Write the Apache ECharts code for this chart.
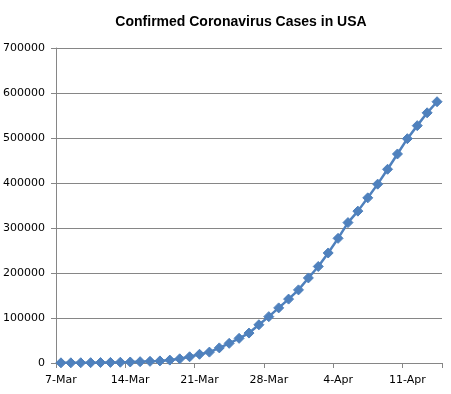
<!DOCTYPE html>
<html>
<head>
<meta charset="utf-8">
<script src="https://cdn.jsdelivr.net/npm/echarts@6/dist/echarts.min.js"></script>
<style>html,body{margin:0;padding:0;background:#fff}#c{width:451px;height:394px}</style>
</head>
<body>
<div id="c"></div>
<script>
var titleText = 'Confirmed Coronavirus Cases in USA';
var categories = ['7-Mar','8-Mar','9-Mar','10-Mar','11-Mar','12-Mar','13-Mar','14-Mar','15-Mar','16-Mar','17-Mar','18-Mar','19-Mar','20-Mar','21-Mar','22-Mar','23-Mar','24-Mar','25-Mar','26-Mar','27-Mar','28-Mar','29-Mar','30-Mar','31-Mar','1-Apr','2-Apr','3-Apr','4-Apr','5-Apr','6-Apr','7-Apr','8-Apr','9-Apr','10-Apr','11-Apr','12-Apr','13-Apr','14-Apr'];
var cases = [400, 450, 550, 700, 1000, 1300, 1700, 2250, 2950, 3700, 4650, 6400, 9300, 13800, 19400, 24200, 33600, 43700, 54800, 66500, 85000, 103000, 122500, 142000, 162500, 189000, 214500, 244500, 277000, 312000, 337500, 367000, 397500, 430500, 464500, 498500, 527500, 556000, 580600];
var yTicks = [0, 100000, 200000, 300000, 400000, 500000, 600000, 700000];

var chart = echarts.init(document.getElementById('c'), null, {renderer: 'canvas'});
chart.setOption({
  animation: false,
  backgroundColor: '#ffffff',
  title: {
    text: titleText,
    left: 236, top: 10, textAlign: 'center',
    textStyle: {fontFamily: 'Liberation Sans', fontWeight: 'bold', fontSize: 14, color: '#000'}
  },
  grid: {left: 54, right: 9, top: 48, bottom: 31, containLabel: false},
  xAxis: {
    type: 'category',
    data: categories,
    boundaryGap: true,
    axisLine: {lineStyle: {color: '#868686', width: 1}},
    axisTick: {show: true, interval: 6, length: 5, lineStyle: {color: '#868686'}},
    axisLabel: {interval: 6, margin: 12, fontFamily: 'DejaVu Sans', fontSize: 11, color: '#000'},
    splitLine: {show: false}
  },
  yAxis: {
    type: 'value',
    min: yTicks[0], max: yTicks[yTicks.length - 1], interval: yTicks[1] - yTicks[0],
    axisLine: {show: true, lineStyle: {color: '#868686', width: 1}},
    axisTick: {show: true, length: 5, lineStyle: {color: '#868686'}},
    axisLabel: {margin: 11, fontFamily: 'DejaVu Sans', fontSize: 11, color: '#000',
      formatter: function (v) { return String(v); }},
    splitLine: {show: true, lineStyle: {color: '#868686', width: 1}}
  },
  series: [{
    type: 'line',
    data: cases,
    symbol: 'diamond',
    symbolSize: 10,
    showAllSymbol: true,
    lineStyle: {color: '#4F81BD', width: 2.5},
    itemStyle: {color: '#4F81BD', borderColor: '#4F81BD', borderWidth: 1}
  }]
});
</script>
</body>
</html>
